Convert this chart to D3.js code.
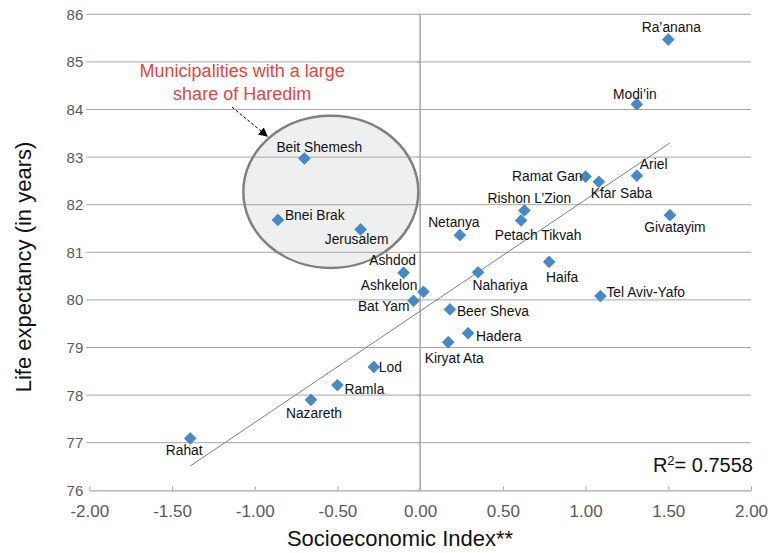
<!DOCTYPE html>
<html>
<head>
<meta charset="utf-8">
<script src="https://cdn.jsdelivr.net/npm/d3@7"></script>
<style>
  html, body { margin: 0; padding: 0; background: #fff; }
  svg { display: block; font-family: "Liberation Sans", Arial, sans-serif; }
</style>
</head>
<body>
<svg id="chart" width="770" height="553"></svg>
<script>
// Municipalities: socioeconomic index vs. life expectancy
const cities = ["Ra’anana", "Modi’in", "Ariel", "Givatayim", "Ramat Gan", "Kfar Saba",
  "Rishon L’Zion", "Petach Tikvah", "Netanya", "Haifa", "Tel Aviv-Yafo", "Nahariya",
  "Ashdod", "Ashkelon", "Bat Yam", "Beer Sheva", "Hadera", "Kiryat Ata", "Lod",
  "Ramla", "Nazareth", "Rahat", "Beit Shemesh", "Bnei Brak", "Jerusalem"];
const socioIndex = [1.50, 1.31, 1.31, 1.51, 1.00, 1.08, 0.63, 0.61, 0.24, 0.78, 1.09, 0.35,
  -0.10, 0.02, -0.04, 0.18, 0.29, 0.17, -0.28, -0.50, -0.66, -1.39, -0.70, -0.86, -0.36];
const lifeExpectancy = [85.47, 84.11, 82.61, 81.78, 82.59, 82.48, 81.88, 81.67, 81.36, 80.80,
  80.08, 80.58, 80.57, 80.17, 79.98, 79.80, 79.30, 79.11, 78.59, 78.21, 77.90, 77.09,
  82.97, 81.68, 81.48];
// Municipalities with a large Haredi population (kept out of the trend fit)
const haredi = ["Beit Shemesh", "Bnei Brak", "Jerusalem"];

const xTicks = [-2, -1.5, -1, -0.5, 0, 0.5, 1, 1.5, 2];
const yTicks = [76, 77, 78, 79, 80, 81, 82, 83, 84, 85, 86];
const rSquaredValue = "0.7558";
const noteLines = ["Municipalities with a large", "share of Haredim"];

// Label placement for each city: [dx, dy, anchor] in pixels from the marker
const labelOffsets = [
  [3, -8, "middle"], [-2, -5, "middle"], [3, -7, "start"], [5, 17, "middle"],
  [-3, 4, "end"], [-8, 16, "start"], [5, -7, "middle"], [17, 20, "middle"],
  [-6, -8, "middle"], [13, 20, "middle"], [6, 1, "start"], [22, 18, "middle"],
  [-11, -8, "middle"], [-6, -2, "end"], [-4, 10, "end"], [7, 7, "start"],
  [8, 8, "start"], [6, 21, "middle"], [5, 5, "start"], [7, 9, "start"],
  [3, 18, "middle"], [-6, 17, "middle"], [15, -7, "middle"], [7, 0, "start"],
  [-4, 15, "middle"]
];

const data = cities.map((name, i) => ({
  name, x: socioIndex[i], y: lifeExpectancy[i], off: labelOffsets[i]
}));

const width = 770, height = 553;
const margin = { top: 14.3, right: 19, bottom: 62.7, left: 89.3 };

const x = d3.scaleLinear().domain([-2, 2]).range([margin.left, width - margin.right]);
const y = d3.scaleLinear().domain([76, 86]).range([height - margin.bottom, margin.top]);

const svg = d3.select("#chart");
const tickColor = "#595959";
const gridColor = "#a6a6a6";

// Highlight ellipse around the Haredi municipalities (fill goes under the grid)
const ell = { cx: -0.54, cy: 82.27, rx: 0.529, ry: 1.60 };
svg.append("ellipse")
  .attr("cx", x(ell.cx)).attr("cy", y(ell.cy))
  .attr("rx", x(ell.cx + ell.rx) - x(ell.cx))
  .attr("ry", y(ell.cy - ell.ry) - y(ell.cy))
  .attr("fill", "#eef0ef");

// Horizontal gridlines
svg.append("g").selectAll("line")
  .data(yTicks.filter(t => t !== 76))
  .join("line")
  .attr("x1", x(-2) - 3).attr("x2", x(2))
  .attr("y1", d => y(d)).attr("y2", d => y(d))
  .attr("stroke", gridColor).attr("stroke-width", 1);

// Y tick labels
svg.append("g").selectAll("text")
  .data(yTicks)
  .join("text")
  .attr("x", x(-2) - 6).attr("y", d => y(d)).attr("dy", "0.36em")
  .attr("text-anchor", "end")
  .attr("font-size", 15).attr("fill", tickColor)
  .text(d => d);

// Vertical axis crossing at zero with small ticks
svg.append("line")
  .attr("x1", x(0)).attr("x2", x(0))
  .attr("y1", y(86)).attr("y2", y(76))
  .attr("stroke", gridColor).attr("stroke-width", 1.5);
svg.append("g").selectAll("line")
  .data(yTicks)
  .join("line")
  .attr("x1", x(0) - 3).attr("x2", x(0))
  .attr("y1", d => y(d)).attr("y2", d => y(d))
  .attr("stroke", gridColor);

// X axis along the bottom
const fmt = d3.format(".2f");
const xAxis = d3.axisBottom(x)
  .tickValues(xTicks)
  .tickSizeInner(-4).tickSizeOuter(0)
  .tickFormat(d => fmt(d).replace("−", "-"));
const gx = svg.append("g")
  .attr("transform", `translate(0,${y(76)})`)
  .call(xAxis);
gx.select(".domain").attr("stroke", gridColor).attr("stroke-width", 1.2);
gx.selectAll(".tick line").attr("stroke", gridColor);
gx.selectAll(".tick text")
  .attr("y", 26.5).attr("dy", null)
  .attr("font-size", 17).attr("fill", tickColor)
  .attr("font-family", "Liberation Sans, Arial, sans-serif");

// Ellipse outline over the grid
svg.append("ellipse")
  .attr("cx", x(ell.cx)).attr("cy", y(ell.cy))
  .attr("rx", x(ell.cx + ell.rx) - x(ell.cx))
  .attr("ry", y(ell.cy - ell.ry) - y(ell.cy))
  .attr("fill", "none")
  .attr("stroke", "#808080").attr("stroke-width", 2.5);

// Linear trend (least squares) over the non-Haredi municipalities
const fitPts = data.filter(d => !haredi.includes(d.name));
const mx = d3.mean(fitPts, d => d.x), my = d3.mean(fitPts, d => d.y);
const slope = d3.sum(fitPts, d => (d.x - mx) * (d.y - my)) / d3.sum(fitPts, d => (d.x - mx) ** 2);
const intercept = my - slope * mx;
const [xMin, xMax] = d3.extent(fitPts, d => d.x);
svg.append("line")
  .attr("x1", x(xMin)).attr("y1", y(intercept + slope * xMin))
  .attr("x2", x(xMax)).attr("y2", y(intercept + slope * xMax))
  .attr("stroke", "#7f7f7f").attr("stroke-width", 1);

// Diamond markers
const diamond = d3.symbol(d3.symbolSquare, 70);
svg.append("g").selectAll("path")
  .data(data)
  .join("path")
  .attr("d", diamond)
  .attr("transform", d => `translate(${x(d.x)},${y(d.y)}) rotate(45)`)
  .attr("fill", "#4589c8")
  .attr("stroke", "#3a7ab8").attr("stroke-width", 0.6);

// City labels
svg.append("g").selectAll("text")
  .data(data)
  .join("text")
  .attr("x", d => x(d.x) + d.off[0])
  .attr("y", d => y(d.y) + d.off[1])
  .attr("text-anchor", d => d.off[2])
  .attr("font-size", 13.8).attr("fill", "#111")
  .text(d => d.name);

// Annotation note and dashed arrow
const note = svg.append("text")
  .attr("text-anchor", "middle")
  .attr("font-size", 18).attr("fill", "#e0463f");
noteLines.forEach((t, i) => {
  note.append("tspan")
    .attr("x", x(-1.076)).attr("y", 77 + i * 22.5)
    .text(t);
});

svg.append("defs").append("marker")
  .attr("id", "arrowhead")
  .attr("viewBox", "0 0 10 10")
  .attr("refX", 9).attr("refY", 5)
  .attr("markerWidth", 9).attr("markerHeight", 9)
  .attr("markerUnits", "userSpaceOnUse")
  .attr("orient", "auto")
  .append("path")
  .attr("d", "M0,0 L10,5 L0,10 Z")
  .attr("fill", "#000");

svg.append("line")
  .attr("x1", x(-1.137)).attr("y1", y(84.05))
  .attr("x2", x(-0.925)).attr("y2", y(83.44))
  .attr("stroke", "#000").attr("stroke-width", 1)
  .attr("stroke-dasharray", "3,2")
  .attr("marker-end", "url(#arrowhead)");

// R-squared note with a raised 2
const r2 = svg.append("text")
  .attr("x", x(2) + 2).attr("y", 472)
  .attr("text-anchor", "end")
  .attr("font-size", 20).attr("fill", "#111");
r2.append("tspan").text("R");
r2.append("tspan").attr("font-size", 13).attr("dy", -7).text("2");
r2.append("tspan").attr("dy", 7).text("= " + rSquaredValue);

// Axis titles
svg.append("text")
  .attr("x", 400).attr("y", 546)
  .attr("text-anchor", "middle")
  .attr("font-size", 22).attr("fill", "#111")
  .text("Socioeconomic Index**");

svg.append("text")
  .attr("transform", "translate(31,267) rotate(-90)")
  .attr("text-anchor", "middle")
  .attr("font-size", 22).attr("fill", "#111")
  .text("Life expectancy (in years)");
</script>
</body>
</html>
